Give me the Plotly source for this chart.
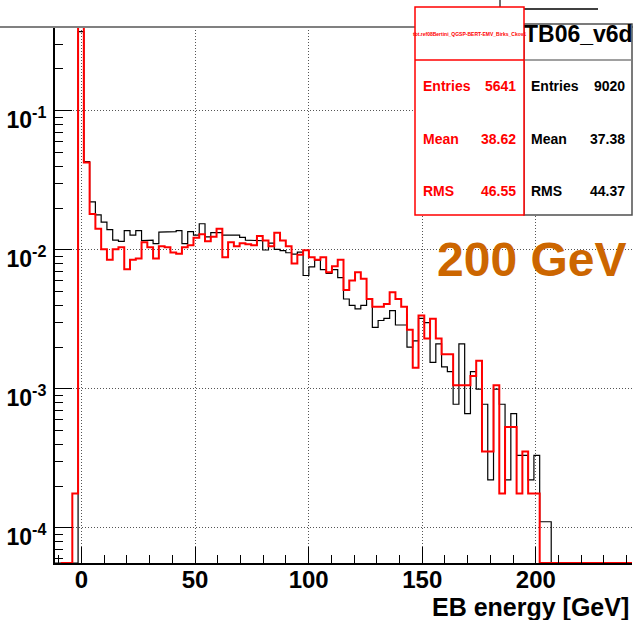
import plotly.graph_objects as go

FONT = "Liberation Sans, Arial, Helvetica, sans-serif"

# ---- histogram binning (shared by both samples) ----
HIST_LOW = -11.66
BIN_WIDTH = 2.54
N_BINS = 100

# ---- TB06_v6d (data), counts per bin, starting at bin 4 (the zero peak) ----
black_entries = 9020
black_first_bin = 4
black_counts = [
    3347, 389, 200, 161, 143, 126, 106, 104, 124, 115,
    124, 105, 106, 100, 121, 121, 122, 124, 100, 122,
    115, 139, 112, 120, 120, 115, 114, 115, 111, 106,
    105, 105, 90, 101, 91, 89, 86, 84, 87, 59,
    68, 76, 65, 61, 65, 57, 40, 36, 34, 36,
    40, 25, 28, 29, 33, 26, 26, 18, 20, 29,
    27, 14, 19, 13, 12, 7, 19, 6, 12, 9,
    7, 2, 9, 7, 2, 6, 3, 3, 2, 3,
    1, 1,
]

# ---- simulation (QGSP-BERT-EMV), counts per bin, starting at bin 3 ----
red_entries = 5641
red_range_first_bin = 1
red_first_bin = 3
red_counts = [
    1, 2329, 240, 102, 80, 57, 48, 57, 59, 41,
    48, 49, 64, 59, 49, 60, 59, 54, 53, 59,
    61, 69, 73, 65, 70, 80, 50, 64, 60, 63,
    62, 61, 71, 66, 60, 75, 66, 60, 45, 52,
    56, 50, 48, 50, 39, 43, 48, 29, 34, 39,
    35, 25, 22, 22, 23, 28, 25, 22, 15, 8,
    19, 13, 18, 13, 10, 10, 6, 6, 6, 7,
    9, 2, 2, 6, 1, 3, 3, 1, 2, 1,
    1,
]

stats_black = [("Entries", "9020"), ("Mean", "37.38"), ("RMS", "44.37")]
stats_red = [("Entries", "5641"), ("Mean", "38.62"), ("RMS", "46.55")]

x_ticks = [0, 50, 100, 150, 200]
y_ticks = [1e-4, 1e-3, 1e-2, 1e-1]
y_tick_text = ["10<sup>-4</sup>", "10<sup>-3</sup>", "10<sup>-2</sup>", "10<sup>-1</sup>"]

X_RANGE = [HIST_LOW, HIST_LOW + N_BINS * BIN_WIDTH]
Y_LOG_RANGE = [-4.252, -0.397]
FLOOR = 10 ** Y_LOG_RANGE[0]

W, H = 633, 620
L, R, T, B = 55, 1, 27, 57
PW, PH = W - L - R, H - T - B


def px(x):
    return (x - L) / PW


def py(y):
    return (H - B - y) / PH


def normalised(counts, first_bin, entries):
    vals = [0.0] * N_BINS
    for i, c in enumerate(counts):
        vals[first_bin + i] = c / entries
    return vals


def step_path(vals, start_bin):
    """ROOT-like outline: empty bins sit on the bottom of the frame."""
    xs, ys = [], []
    x0 = HIST_LOW + start_bin * BIN_WIDTH
    xs.append(x0)
    ys.append(FLOOR)
    for b in range(start_bin, N_BINS):
        lo = HIST_LOW + b * BIN_WIDTH
        hi = lo + BIN_WIDTH
        v = vals[b] if vals[b] > 0 else FLOOR
        xs += [lo, hi]
        ys += [v, v]
    xs.append(HIST_LOW + N_BINS * BIN_WIDTH)
    ys.append(FLOOR)
    return xs, ys


black_vals = normalised(black_counts, black_first_bin, black_entries)
red_vals = normalised(red_counts, red_first_bin, red_entries)

fig = go.Figure()
bx, by = step_path(black_vals, 0)
fig.add_trace(go.Scatter(x=bx, y=by, mode="lines",
                         line=dict(color="black", width=1.2), hoverinfo="skip"))
rx, ry = step_path(red_vals, red_range_first_bin)
fig.add_trace(go.Scatter(x=rx, y=ry, mode="lines",
                         line=dict(color="#ff0000", width=2), hoverinfo="skip"))

fig.update_layout(
    width=W, height=H,
    margin=dict(l=L, r=R, t=T, b=B),
    paper_bgcolor="white", plot_bgcolor="white",
    showlegend=False,
    font=dict(family=FONT, color="black"),
)

fig.update_xaxes(
    range=X_RANGE, showline=True, linecolor="black", linewidth=2,
    ticks="inside", ticklen=16, tickwidth=1, tickcolor="black",
    tickmode="array", tickvals=x_ticks, ticktext=[str(v) for v in x_ticks],
    tickfont=dict(family=FONT, size=24, color="black", weight="bold"),
    ticklabelstandoff=-6,
    showgrid=True, gridcolor="#555", gridwidth=1, griddash="1px,2px",
    zeroline=False,
    minor=dict(tick0=0, dtick=10, ticks="inside", ticklen=8, tickwidth=1,
               tickcolor="black", showgrid=False),
)

minor_y = [m * 10 ** e for e in range(-5, 0) for m in range(2, 10)]
fig.update_yaxes(
    type="log", range=Y_LOG_RANGE, showline=True, linecolor="black", linewidth=2,
    ticks="inside", ticklen=17, tickwidth=1, tickcolor="black",
    tickmode="array", tickvals=y_ticks, ticktext=y_tick_text,
    tickfont=dict(family=FONT, size=23, color="black", weight="bold"),
    ticklabelstandoff=2, ticklabelshift=9,
    showgrid=True, gridcolor="#555", gridwidth=1, griddash="1px,2px",
    zeroline=False,
    minor=dict(tickmode="array", tickvals=minor_y, ticks="inside", ticklen=8,
               tickwidth=1, tickcolor="black", showgrid=False),
)

shapes = []
# frame top edge running across the pad
shapes.append(dict(type="line", xref="paper", yref="paper",
                   x0=px(0), x1=px(W), y0=py(27), y1=py(27),
                   line=dict(color="#808080", width=2)))
# corner of the box lying behind the statistics panels
shapes.append(dict(type="line", xref="paper", yref="paper",
                   x0=px(500), x1=px(500), y0=py(-2), y1=py(9),
                   line=dict(color="#404040", width=1.5)))
shapes.append(dict(type="line", xref="paper", yref="paper",
                   x0=px(500), x1=px(598), y0=py(9), y1=py(9),
                   line=dict(color="black", width=1.5)))
# TB06_v6d statistics panel
shapes.append(dict(type="rect", xref="paper", yref="paper",
                   x0=px(524), x1=px(632), y0=py(215), y1=py(24),
                   line=dict(color="#505050", width=1.5), fillcolor="white"))
shapes.append(dict(type="line", xref="paper", yref="paper",
                   x0=px(524), x1=px(632), y0=py(60), y1=py(60),
                   line=dict(color="#808080", width=1.5)))
# simulation statistics panel
shapes.append(dict(type="rect", xref="paper", yref="paper",
                   x0=px(415), x1=px(524), y0=py(215), y1=py(7),
                   line=dict(color="#ff0000", width=1.5), fillcolor="white"))
shapes.append(dict(type="line", xref="paper", yref="paper",
                   x0=px(415), x1=px(524), y0=py(60), y1=py(60),
                   line=dict(color="#ff0000", width=1.5)))

ann = []


def text(x, y, s, size, color="black", anchor="left", weight="bold"):
    ann.append(dict(xref="paper", yref="paper", x=px(x), y=py(y), text=s,
                    showarrow=False, xanchor=anchor, yanchor="middle",
                    font=dict(family=FONT, size=size, color=color, weight=weight)))


text(469.5, 34, "tbt.ref08Bertini_QGSP-BERT-EMV_Birks_Ckov1", 5, "#ff0000", "center")
text(578, 34, "TB06_v6d", 23, "black", "center")
rows_y = [86, 139, 191]
for (lab, val), yy in zip(stats_red, rows_y):
    text(421, yy, lab, 14, "#ff0000", "left")
    text(518, yy, val, 14, "#ff0000", "right")
for (lab, val), yy in zip(stats_black, rows_y):
    text(529, yy, lab, 14, "black", "left")
    text(627, yy, val, 14, "black", "right")

text(531, 259, "200 GeV", 48, "#cc6600", "center")
text(631, 607, "EB energy [GeV]", 25, "black", "right")

fig.update_layout(shapes=shapes, annotations=ann)
fig.write_html("out.html")
